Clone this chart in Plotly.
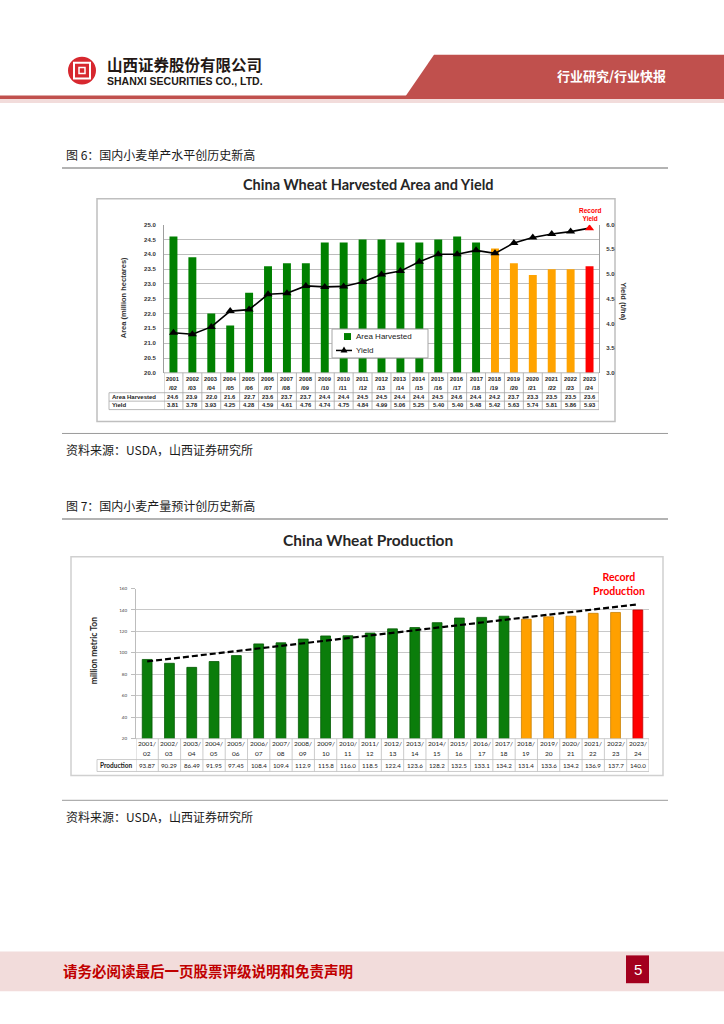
import plotly.graph_objects as go

W, H = 724, 1024

# ---------------- data ----------------
seasons = ["2001/02", "2002/03", "2003/04", "2004/05", "2005/06", "2006/07", "2007/08",
           "2008/09", "2009/10", "2010/11", "2011/12", "2012/13", "2013/14", "2014/15",
           "2015/16", "2016/17", "2017/18", "2018/19", "2019/20", "2020/21", "2021/22",
           "2022/23", "2023/24"]
area_harvested = [24.6, 23.9, 22.0, 21.6, 22.7, 23.6, 23.7, 23.7, 24.4, 24.4, 24.5, 24.5,
                  24.4, 24.4, 24.5, 24.6, 24.4, 24.2, 23.7, 23.3, 23.5, 23.5, 23.6]
yield_t_ha = [3.81, 3.78, 3.93, 4.25, 4.28, 4.59, 4.61, 4.76, 4.74, 4.75, 4.84, 4.99,
              5.06, 5.25, 5.40, 5.40, 5.48, 5.42, 5.63, 5.74, 5.81, 5.86, 5.93]
production = [93.87, 90.29, 86.49, 91.95, 97.45, 108.4, 109.4, 112.9, 115.8, 116.0, 118.5,
              122.4, 123.6, 128.2, 132.5, 133.1, 134.2, 131.4, 133.6, 134.2, 136.9, 137.7, 140.0]
trend_seasons = ["2001/02", "2023/24"]
trend_values = [92.0, 145.3]
area_ticks = [20.0, 20.5, 21.0, 21.5, 22.0, 22.5, 23.0, 23.5, 24.0, 24.5, 25.0]
yield_ticks = [3.0, 3.5, 4.0, 4.5, 5.0, 5.5, 6.0]
production_ticks = [20, 40, 60, 80, 100, 120, 140, 160]


# ---------------- helpers ----------------
def X(px):
    return px / W


def Y(py):
    return 1 - py / H


def period(season):
    start = int(season[:4])
    if start >= 2023:
        return "record"
    if start >= 2018:
        return "recent"
    return "base"


C1 = {"base": "#008000", "recent": "#FFA300", "record": "#FF0000"}
C2 = {"base": "#0B7D0B", "recent": "#FFA000", "record": "#FF0000"}
C2_EDGE = {"base": "#055A05", "recent": "#C98000", "record": "#C00000"}

ARIAL = "Liberation Sans"
CALIBRI = "Lato"
CJK = "Noto Sans CJK SC"

annotations = []
shapes = []


def txt(x, y, text, size, color="#222222", family=ARIAL, weight="normal",
        xanchor="center", xref="paper", angle=0, bg=None):
    a = dict(x=x, y=y, xref=xref, yref="paper", text=text, showarrow=False,
             xanchor=xanchor, yanchor="middle", textangle=angle, borderpad=0,
             font=dict(size=size, color=color, family=family, weight=weight))
    if bg:
        a["bgcolor"] = bg
    annotations.append(a)


def line(x0, y0, x1, y1, color, width, xref="paper", layer="above"):
    shapes.append(dict(type="line", xref=xref, yref="paper", x0=x0, x1=x1,
                       y0=y0, y1=y1, line=dict(color=color, width=width), layer=layer))


def rect(x0, y0, x1, y1, fill=None, lc=None, lw=0, layer="below"):
    shapes.append(dict(type="rect", xref="paper", yref="paper", x0=X(x0), x1=X(x1),
                       y0=Y(y1), y1=Y(y0), fillcolor=fill or "rgba(0,0,0,0)",
                       line=dict(color=lc or "rgba(0,0,0,0)", width=lw), layer=layer))


# ---------------- page furniture ----------------
# header
rect(0, 93, 724, 96.5, fill="#C0504D")
rect(0, 96.5, 724, 100.5, fill="#F2DCDB")
shapes.append(dict(type="path", xref="paper", yref="paper",
                   path=f"M {X(434)},{Y(52)} L {X(724)},{Y(52)} L {X(724)},{Y(96)} L {X(404)},{Y(96)} Z",
                   fillcolor="#C0504D", line=dict(width=0), layer="below"))
txt(X(611), Y(73), "行业研究/行业快报", 13, color="white", family=CJK, weight="bold")
shapes.append(dict(type="circle", xref="paper", yref="paper", x0=X(68), x1=X(96),
                   y0=Y(82), y1=Y(54), fillcolor="#D7282F", line=dict(width=0)))
rect(74, 60, 90, 76, lc="white", lw=2, layer="above")
rect(79, 65, 85, 71, lc="white", lw=1.5, layer="above")
txt(X(106), Y(61), "山西证券股份有限公司", 15.5, color="#231815", family=CJK,
    weight="bold", xanchor="left")
txt(X(106), Y(78), "SHANXI SECURITIES CO., LTD.", 10.5, color="#231815",
    weight="bold", xanchor="left")

# captions and rules
txt(X(65), Y(152), "图 6：国内小麦单产水平创历史新高", 12, color="#1a1a1a", family=CJK, xanchor="left")
line(X(62), Y(166), X(668), Y(166), "#9A9A9A", 1.5)
line(X(62), Y(433), X(668), Y(433), "#9A9A9A", 1)
txt(X(65), Y(449), "资料来源：USDA，山西证券研究所", 12, color="#1a1a1a", family=CJK, xanchor="left")
txt(X(65), Y(505), "图 7：国内小麦产量预计创历史新高", 12, color="#1a1a1a", family=CJK, xanchor="left")
line(X(62), Y(519), X(668), Y(519), "#9A9A9A", 1.5)
line(X(62), Y(802), X(668), Y(802), "#9A9A9A", 1)
txt(X(65), Y(818), "资料来源：USDA，山西证券研究所", 12, color="#1a1a1a", family=CJK, xanchor="left")

# footer
rect(0, 954, 724, 994, fill="#F2DCDB")
rect(626, 958, 649, 986, fill="#A3001E")
txt(X(62), Y(973), "请务必阅读最后一页股票评级说明和免责声明", 14.5, color="#C00000",
    family=CJK, weight="bold", xanchor="left")
txt(X(637.5), Y(972), "5", 15, color="white", family=ARIAL)

# ---------------- chart 1 : area & yield ----------------
P1_L, P1_R, P1_T, P1_B = 164, 599, 223, 372
rect(97, 197, 615, 421, fill="white", lc="#BFBFBF", lw=1.5)
txt(X(368), Y(183), "China Wheat Harvested Area and Yield", 14.5, color="#262626",
    family=CALIBRI, weight="bold")
txt(X(123), Y(297), "Area (million hectares)", 7.5, color="#333333", weight="bold", angle=-90)
txt(X(624), Y(300), "Yield (t/ha)", 7.5, color="#333333", weight="bold", angle=90)
txt("2023/24", Y(213), "Record<br>Yield", 6.5, color="#FF0000", weight="bold", xref="x")

# legend box (drawn above the bars)
rect(332, 328, 428, 357, fill="white", lc="#A6A6A6", lw=1, layer="above")
rect(344, 332, 351, 339, fill=C1["base"], layer="above")
line(X(336), Y(349.5), X(352), Y(349.5), "black", 1.5)
shapes.append(dict(type="path", xref="paper", yref="paper", layer="above",
                   path=f"M {X(344)},{Y(345.5)} L {X(347.5)},{Y(351.5)} L {X(340.5)},{Y(351.5)} Z",
                   fillcolor="black", line=dict(width=0)))
txt(X(355), Y(335.5), "Area Harvested", 8, color="#222222", xanchor="left")
txt(X(355), Y(349.5), "Yield", 8, color="#222222", xanchor="left")

n = len(seasons)
T1_TOP, T1_R1, T1_R2, T1_BOT, T1_LAB = 372, 392, 400.5, 409, 109
for i in range(n + 1):
    line(i - 0.5, Y(T1_TOP), i - 0.5, Y(T1_BOT), "#A6A6A6", 0.8, xref="x")
line(X(P1_L), Y(T1_TOP), X(P1_R), Y(T1_TOP), "#A6A6A6", 0.8)
for yy in (T1_R1, T1_R2, T1_BOT):
    line(X(T1_LAB), Y(yy), X(P1_R), Y(yy), "#A6A6A6", 0.8)
line(X(T1_LAB), Y(T1_R1), X(T1_LAB), Y(T1_BOT), "#A6A6A6", 0.8)
txt(X(T1_LAB + 2), Y(396.3), "Area Harvested", 6, color="#222222", weight="bold", xanchor="left")
txt(X(T1_LAB + 2), Y(404.8), "Yield", 6, color="#222222", weight="bold", xanchor="left")
for s, a, yv in zip(seasons, area_harvested, yield_t_ha):
    txt(s, Y(378.5), s[:4], 5.8, color="#222222", weight="bold", xref="x")
    txt(s, Y(387.5), "/" + s[5:], 5.8, color="#222222", weight="bold", xref="x")
    txt(s, Y(396.3), f"{a:.1f}", 5.8, color="#222222", weight="bold", xref="x")
    txt(s, Y(404.8), f"{yv:.2f}", 5.8, color="#222222", weight="bold", xref="x")

# ---------------- chart 2 : production ----------------
P2_L, P2_R, P2_T, P2_B = 136, 649, 589, 740
rect(71, 557, 663, 777, fill="white", lc="#D0D0D0", lw=1.5)
txt(X(368), Y(540), "China Wheat Production", 15.5, color="#262626", family=CALIBRI, weight="bold")
txt(X(94), Y(652), "million metric Ton", 8.5, color="#262626", family=CALIBRI,
    weight="bold", angle=-90)
txt(X(619), Y(584), "Record<br>Production", 10.5, color="#FF0000", family=CALIBRI,
    weight="bold", bg="white")

T2_TOP, T2_R1, T2_BOT, T2_LAB = 740, 761, 773, 97
for i in range(n + 1):
    line(i - 0.5, Y(T2_TOP), i - 0.5, Y(T2_BOT), "#BFBFBF", 0.8, xref="x2")
for yy in (T2_R1, T2_BOT):
    line(X(T2_LAB), Y(yy), X(P2_R), Y(yy), "#BFBFBF", 0.8)
line(X(P2_L), Y(T2_TOP), X(P2_R), Y(T2_TOP), "#BFBFBF", 0.8)
line(X(T2_LAB), Y(T2_R1), X(T2_LAB), Y(T2_BOT), "#BFBFBF", 0.8)
txt(X(T2_LAB + 2), Y(767), "Production", 6.5, color="#1a1a1a", family=CALIBRI,
    weight="bold", xanchor="left")
for s, p in zip(seasons, production):
    txt(s, Y(744.5), s[:4] + "/", 6.5, color="#222222", family=CALIBRI, xref="x2")
    txt(s, Y(755), s[5:], 6.5, color="#222222", family=CALIBRI, xref="x2")
    txt(s, Y(767), f"{p:.2f}" if p < 100 else f"{p:.1f}", 6.2, color="#1a1a1a",
        family=CALIBRI, xref="x2")

# ---------------- traces ----------------
fig = go.Figure()
fig.add_trace(go.Bar(
    x=seasons, y=area_harvested, name="Area Harvested", width=0.42,
    marker=dict(color=[C1[period(s)] for s in seasons], line=dict(width=0)),
    xaxis="x", yaxis="y", hoverinfo="skip"))
fig.add_trace(go.Scatter(
    x=seasons, y=yield_t_ha, name="Yield", mode="lines+markers",
    line=dict(color="black", width=1.6),
    marker=dict(symbol="triangle-up", size=8,
                color=["#FF0000" if period(s) == "record" else "black" for s in seasons]),
    xaxis="x", yaxis="y2", hoverinfo="skip"))
fig.add_trace(go.Bar(
    x=seasons, y=production, width=0.44,
    marker=dict(color=[C2[period(s)] for s in seasons],
                line=dict(color=[C2_EDGE[period(s)] for s in seasons], width=0.8)),
    xaxis="x2", yaxis="y3", hoverinfo="skip"))
fig.add_trace(go.Scatter(
    x=trend_seasons, y=trend_values, mode="lines",
    line=dict(color="black", width=2.2, dash="6px,3px"),
    xaxis="x2", yaxis="y3", hoverinfo="skip"))

fig.update_layout(
    width=W, height=H, autosize=False, showlegend=False,
    margin=dict(l=0, r=0, t=0, b=0),
    paper_bgcolor="white", plot_bgcolor="rgba(0,0,0,0)",
    xaxis=dict(domain=[X(P1_L), X(P1_R)], anchor="y", type="category",
               categoryorder="array", categoryarray=seasons, range=[-0.5, n - 0.5],
               showticklabels=False, showgrid=False, zeroline=False, showline=False, ticks=""),
    yaxis=dict(domain=[Y(P1_B), Y(P1_T)], anchor="x", range=[20, 25],
               tickvals=area_ticks, ticktext=[f"{v:.1f}" for v in area_ticks],
               tickfont=dict(family=ARIAL, size=6, color="#333333", weight="bold"),
               showgrid=True, gridcolor="#BDBDBD", gridwidth=1,
               showline=True, linecolor="#9E9E9E", linewidth=1,
               zeroline=False, ticks="", ticklabelstandoff=6),
    yaxis2=dict(overlaying="y", anchor="x", side="right", range=[3, 6],
                tickvals=yield_ticks, ticktext=[f"{v:.1f}" for v in yield_ticks],
                tickfont=dict(family=ARIAL, size=6, color="#333333", weight="bold"),
                showgrid=False, showline=True, linecolor="#9E9E9E", linewidth=1,
                zeroline=False, ticks="", ticklabelstandoff=5),
    xaxis2=dict(domain=[X(P2_L), X(P2_R)], anchor="y3", type="category",
                categoryorder="array", categoryarray=seasons, range=[-0.5, n - 0.5],
                showticklabels=False, showgrid=False, zeroline=False, showline=False, ticks=""),
    yaxis3=dict(domain=[Y(P2_B), Y(P2_T)], anchor="x2", range=[20, 160],
                tickvals=production_ticks,
                tickfont=dict(family=CALIBRI, size=4.5, color="#444444"),
                showgrid=True, gridcolor="#C8C8C8", gridwidth=1,
                showline=True, linecolor="#BDBDBD", linewidth=1,
                zeroline=False, ticks="outside", ticklen=4, tickcolor="#BDBDBD",
                ticklabelstandoff=3),
    shapes=shapes,
    annotations=annotations,
)

fig.write_html("out.html", config={"displayModeBar": False},
               post_script="document.body.style.margin='0';")
